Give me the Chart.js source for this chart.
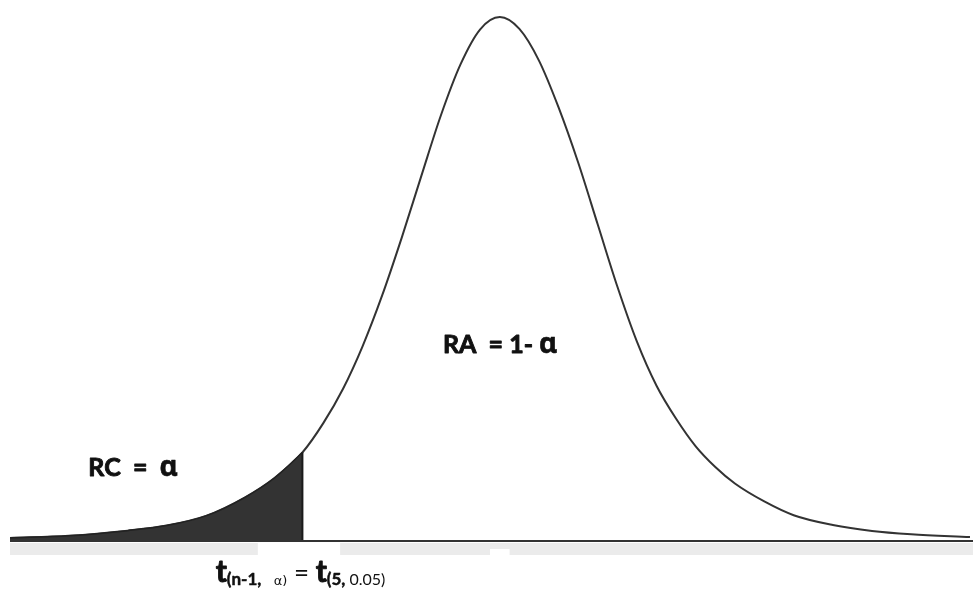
<!DOCTYPE html>
<html>
<head>
<meta charset="utf-8">
<script src="https://cdn.jsdelivr.net/npm/chart.js@4.4.1/dist/chart.umd.min.js"></script>
<style>
  body { margin: 0; background: #ffffff; }
  #chart-1 { display: block; }
</style>
</head>
<body>
<canvas id="chart-1" width="973" height="590"></canvas>
<script>
// t values (x) and curve heights (density)
const tValues = [-5.0, -4.4, -3.8, -3.4, -3.0, -2.6, -2.3, -2.015, -1.8, -1.6, -1.4, -1.2, -1.0, -0.8, -0.6, -0.4, -0.2, 0,
  0.2, 0.4, 0.6, 0.8, 1.0, 1.2, 1.4, 1.6, 1.8, 2.0, 2.2, 2.4, 2.7, 3.0, 3.4, 3.8, 4.2, 4.8];
const density = [0.0015, 0.0031, 0.0068, 0.0105, 0.0175, 0.031, 0.045, 0.0635, 0.085, 0.1098, 0.1408, 0.1777, 0.2197, 0.2645, 0.3085, 0.3454, 0.3707, 0.3796,
  0.371, 0.348, 0.314, 0.274, 0.229, 0.184, 0.144, 0.112, 0.088, 0.068, 0.053, 0.041, 0.028, 0.018, 0.0109, 0.0066, 0.0042, 0.0021];
const tCritical = -2.015;
const xRange = [-5, 4.8];
const yRange = [0, 0.392];

const curve = tValues.map((t, i) => ({ x: t, y: density[i] }));
const tail = curve.filter((p) => p.x <= tCritical);
const tailTop = tail[tail.length - 1].y;

const labelsPlugin = {
  id: "labels",
  afterDatasetsDraw(chart) {
    const c = chart.ctx;
    const xs = chart.scales.x;
    const ys = chart.scales.y;
    const area = chart.chartArea;
    const w = chart.width;

    // grey band under the axis, with gaps
    c.save();
    c.fillStyle = "#ebebeb";
    c.fillRect(area.left, area.bottom + 3, w - area.left, 12);
    c.fillStyle = "#ffffff";
    const g1 = xs.getPixelForValue(-2.47);
    const g2 = xs.getPixelForValue(-1.63);
    c.fillRect(g1, area.bottom + 3, g2 - g1, 12);
    const n1 = xs.getPixelForValue(-0.1);
    const n2 = xs.getPixelForValue(0.1);
    c.fillRect(n1, area.bottom + 9, n2 - n1, 6);

    // base line
    c.strokeStyle = "#333333";
    c.lineWidth = 2;
    c.beginPath();
    c.moveTo(area.left, area.bottom + 1);
    c.lineTo(w, area.bottom + 1);
    c.stroke();

    // vertical line at critical value
    const xc = xs.getPixelForValue(tCritical);
    c.strokeStyle = "#1a1a1a";
    c.lineWidth = 2;
    c.beginPath();
    c.moveTo(xc, ys.getPixelForValue(tailTop));
    c.lineTo(xc, area.bottom);
    c.stroke();

    c.fillStyle = "#111111";
    c.strokeStyle = "#111111";
    c.lineJoin = "round";
    c.textBaseline = "alphabetic";
    c.textAlign = "left";

    function runs(x, y, parts) {
      parts.forEach((p) => {
        c.font = p.font;
        c.fillText(p.text, x, y + (p.dy || 0));
        if (p.heavy) {
          c.lineWidth = p.heavy;
          c.strokeText(p.text, x, y + (p.dy || 0));
        }
        x += c.measureText(p.text).width;
      });
    }

    runs(xs.getPixelForValue(-4.2), ys.getPixelForValue(0.0464), [
      { text: "RC  =  ", font: "bold 25px Lato", heavy: 0.9 },
      { text: "α", font: "bold 28px 'Noto Sans'", heavy: 0.6 },
    ]);
    runs(xs.getPixelForValue(-0.58), ys.getPixelForValue(0.1357), [
      { text: "RA  = 1- ", font: "bold 25px Lato", heavy: 0.9 },
      { text: "α", font: "bold 28px 'Noto Sans'", heavy: 0.6 },
    ]);
    runs(xs.getPixelForValue(-2.9), ys.getPixelForValue(-0.0305), [
      { text: "t", font: "bold 30px Lato", heavy: 0.9 },
      { text: "(n-1,", font: "bold 17px Lato", dy: 3, heavy: 0.5 },
      { text: "   α)", font: "13px 'DejaVu Sans'", dy: 3 },
      { text: " = ", font: "26px Lato" },
      { text: "t", font: "bold 30px Lato", heavy: 0.9 },
      { text: "(5,", font: "bold 17px Lato", dy: 3, heavy: 0.5 },
      { text: " 0.05)", font: "16px Lato", dy: 3 },
    ]);
    c.restore();
  },
};

const ctx_1 = document.getElementById("chart-1");
new Chart(ctx_1, {
  type: "line",
  data: {
    datasets: [
      {
        label: "tail",
        data: tail,
        borderColor: "#222222",
        borderWidth: 1.5,
        backgroundColor: "#333333",
        fill: "origin",
        pointRadius: 0,
        cubicInterpolationMode: "monotone",
      },
      {
        label: "curve",
        data: curve,
        borderColor: "#333333",
        borderWidth: 2,
        fill: false,
        pointRadius: 0,
        cubicInterpolationMode: "monotone",
      },
    ],
  },
  options: {
    responsive: false,
    animation: false,
    layout: { padding: { left: 10, right: 3, top: 0, bottom: 50 } },
    scales: {
      x: { type: "linear", min: xRange[0], max: xRange[1], display: false },
      y: { min: yRange[0], max: yRange[1], display: false },
    },
    plugins: {
      legend: { display: false },
      tooltip: { enabled: false },
    },
  },
  plugins: [labelsPlugin],
});
</script>
</body>
</html>
